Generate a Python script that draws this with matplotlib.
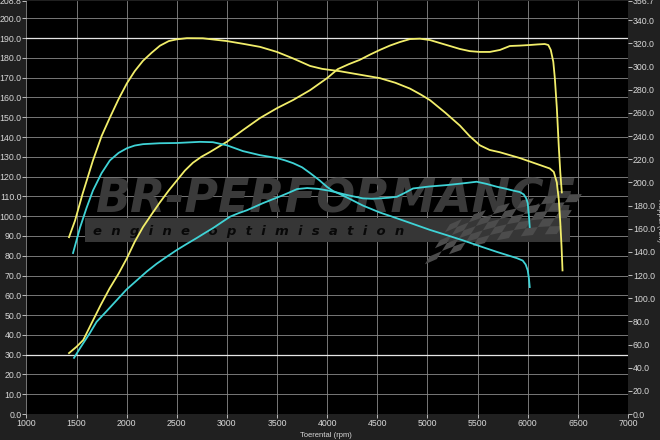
import matplotlib
matplotlib.use("Agg")
import matplotlib.pyplot as plt
import matplotlib.patches as mpatches
from matplotlib.collections import PolyCollection

# tuned run: power (pk, left axis) and torque (Nm, right axis)
rpm_pk_tuned = [1425, 1500, 1567, 1651, 1740, 1830, 1920, 2003, 2080, 2163, 2250, 2332, 2420,
                2500, 2580, 2661, 2745, 2830, 2915, 3000, 3160, 3330, 3500, 3660, 3830,
                4000, 4105, 4215, 4325, 4425, 4525, 4625, 4725, 4825, 4925, 5025, 5124,
                5224, 5323, 5423, 5522, 5622, 5723, 5822, 5920, 6020, 6100, 6170, 6205,
                6230, 6255, 6270, 6290, 6310, 6325, 6340]
pk_tuned = [30.8, 34.0, 37.4, 46.0, 55.0, 63.5, 71.0, 78.8, 87.0, 94.5, 101.0, 107.0, 113.0,
            118.0, 123.0, 127.0, 130.0, 132.4, 135.0, 137.6, 143.5, 149.6, 154.6, 158.7, 163.7,
            169.8, 174.3, 176.8, 179.0, 181.6, 184.0, 186.2, 188.0, 189.5, 189.7, 189.0, 187.5,
            186.0, 184.5, 183.4, 183.0, 183.0, 184.0, 186.0, 186.2, 186.5, 186.8, 187.0, 186.5,
            184.0, 178.0, 170.0, 155.0, 135.0, 122.0, 112.0]

rpm_nm_tuned = [1425, 1485, 1560, 1664, 1750, 1833, 1920, 2003, 2080, 2163, 2250, 2332, 2420,
                2500, 2600, 2760, 3000, 3170, 3330, 3500, 3660, 3830, 3950, 4125, 4325,
                4525, 4680, 4825, 4930, 5025, 5180, 5324, 5420, 5523, 5620, 5723, 5922,
                6121, 6220, 6260, 6290, 6310, 6325, 6337, 6347]
nm_tuned = [152.7, 167.0, 190.0, 219.0, 240.0, 256.0, 272.0, 285.6, 296.0, 305.0, 312.0, 318.0, 322.0,
            323.5, 324.5, 324.4, 322.0, 319.5, 317.0, 312.6, 307.0, 300.5, 298.0, 296.0, 293.0,
            290.0, 286.0, 281.0, 276.0, 271.0, 260.0, 249.0, 240.0, 232.0, 228.0, 226.0, 221.0,
            215.0, 212.0, 209.0, 200.0, 185.0, 165.0, 145.0, 124.0]

# stock run
rpm_pk_stock = [1475, 1535, 1634, 1700, 1800, 1900, 2000, 2100, 2200, 2300, 2400, 2500, 2600,
                2700, 2780, 2862, 2950, 3030, 3115, 3200, 3280, 3360, 3445, 3530, 3615,
                3700, 3800, 3910, 4026, 4110, 4196, 4280, 4356, 4440, 4525, 4610, 4695,
                4775, 4856, 5020, 5191, 5340, 5491, 5590, 5690, 5770, 5850, 5920, 5960,
                5985, 6000, 6012, 6020]
pk_stock = [28.4, 33.3, 41.0, 46.6, 52.0, 57.5, 63.0, 67.5, 72.0, 76.0, 79.5, 82.9, 86.0,
            89.0, 91.5, 94.0, 97.0, 99.7, 101.5, 103.0, 104.8, 106.6, 108.3, 110.0, 111.8,
            113.7, 114.2, 113.8, 112.8, 111.8, 110.7, 109.8, 109.0, 108.8, 109.0, 109.3, 109.8,
            111.8, 114.0, 115.0, 115.7, 116.5, 117.4, 116.3, 114.9, 114.0, 113.0, 112.2, 111.0,
            109.0, 106.6, 100.0, 94.5]

rpm_nm_stock = [1465, 1500, 1535, 1600, 1664, 1750, 1833, 1920, 2003, 2080, 2163, 2330, 2500,
                2730, 2860, 3000, 3080, 3160, 3330, 3500, 3580, 3660, 3750, 3830, 3920,
                4000, 4060, 4125, 4196, 4356, 4525, 4695, 4860, 5024, 5190, 5353, 5520,
                5692, 5891, 5950, 5980, 6000, 6012, 6020]
nm_stock = [139.0, 150.0, 161.0, 178.0, 193.0, 208.0, 219.0, 225.5, 229.5, 231.8, 233.0, 233.8, 234.0,
            235.0, 234.7, 232.0, 229.5, 227.0, 223.5, 221.0, 219.0, 216.6, 213.0, 208.0, 202.0,
            196.0, 192.5, 190.0, 187.0, 180.0, 174.0, 169.0, 164.0, 159.0, 154.5, 150.0, 145.0,
            140.0, 134.6, 132.5, 129.0, 124.0, 117.0, 109.6]

x_ticks = list(range(1000, 7001, 500))
left_ticks = [v * 10.0 for v in range(21)] + [208.8]
right_ticks = [v * 20.0 for v in range(18)] + [356.7]

YELLOW = "#f2ee6a"
CYAN = "#3fd3d6"
TXT = "#d8d8d8"
FONT = ["Liberation Sans", "DejaVu Sans"]

plt.rcParams["font.family"] = FONT

fig = plt.figure(figsize=(6.6, 4.4), dpi=100, facecolor="#202020")
ax = fig.add_axes([0.04, 0.059, 0.9115, 0.939])
ax.set_facecolor("black")
ax2 = ax.twinx()

ax.set_xticks(x_ticks)
ax.set_xticklabels([str(t) for t in x_ticks])
ax.set_yticks(left_ticks)
ax.set_yticklabels(["%.1f" % t for t in left_ticks])
ax2.set_yticks(right_ticks)
ax2.set_yticklabels(["%.1f" % t for t in right_ticks])

for a in (ax, ax2):
    a.tick_params(colors=TXT, labelsize=6.3, length=3, width=0.6, pad=0.5)
    for s in a.spines.values():
        s.set_visible(False)

for t in x_ticks:
    ax.axvline(t, color="#8a8a8a", lw=0.6, zorder=1)
for t in left_ticks[:-1]:
    ax.axhline(t, color="#8a8a8a", lw=0.6, zorder=1)
for t in (30.0, 190.0):
    ax.axhline(t, color="#e6e6e6", lw=0.9, zorder=1)


def px(x, y):
    # pixel position in the reference -> (rpm, left axis value)
    return 1000 + (x - 26.4) * 9.97, (414 - y) / 1.979


# watermark: band with slogan, big logo text, checkered flag
x0, y0 = px(85, 242)
x1, y1 = px(570, 218)
ax.add_patch(mpatches.Rectangle((x0, y0), x1 - x0, y1 - y0, color="#363636", zorder=2, lw=0))
tx, ty = px(93, 231)
ax.text(tx, ty, "e  n  g  i  n  e    o  p  t  i  m  i  s  a  t  i  o  n", fontsize=9.5,
        fontweight="bold", style="italic", color="#080808", ha="left", va="center", zorder=2,
        family="DejaVu Sans")
bx, by = px(335, 200)
ax.text(bx, by, "BR-PERFORMANCE", fontsize=33, fontweight="bold", style="italic",
        color="#3a3a3a", ha="center", va="center", zorder=2, family="DejaVu Sans")

cells = []
for i in range(11):
    for j in range(5):
        if (i + j) % 2:
            continue
        corners = []
        for du, dv in ((0, 0), (1, 0), (1, 1), (0, 1)):
            u, v = i + du, j + dv
            cx = 425 + u * 12 + v * 5
            cy = 258 - u * 3 - v * 8 + 0.25 * (u - 5) ** 2
            corners.append(px(cx, cy))
        cells.append(corners)
ax.add_collection(PolyCollection(cells, facecolors="#4c4c4c", edgecolors="none", zorder=3))

ax.plot(rpm_pk_tuned, pk_tuned, color=YELLOW, lw=1.3, zorder=5)
ax.plot(rpm_pk_stock, pk_stock, color=CYAN, lw=1.3, zorder=5)
ax2.plot(rpm_nm_tuned, nm_tuned, color=YELLOW, lw=1.3, zorder=5)
ax2.plot(rpm_nm_stock, nm_stock, color=CYAN, lw=1.3, zorder=5)
ax.set_xlim(1000, 7000)
ax.set_ylim(0, 208.8)
ax2.set_ylim(0, 356.7)

fig.text(0.493, 0.002, "Toerental (rpm)", color=TXT, fontsize=5.5, ha="center", va="bottom")
fig.text(1.0, 0.5, "Koppel (Nm)", color=TXT, fontsize=5.5, rotation=270, ha="center", va="center")

fig.savefig("out.png", dpi=100, facecolor=fig.get_facecolor())
